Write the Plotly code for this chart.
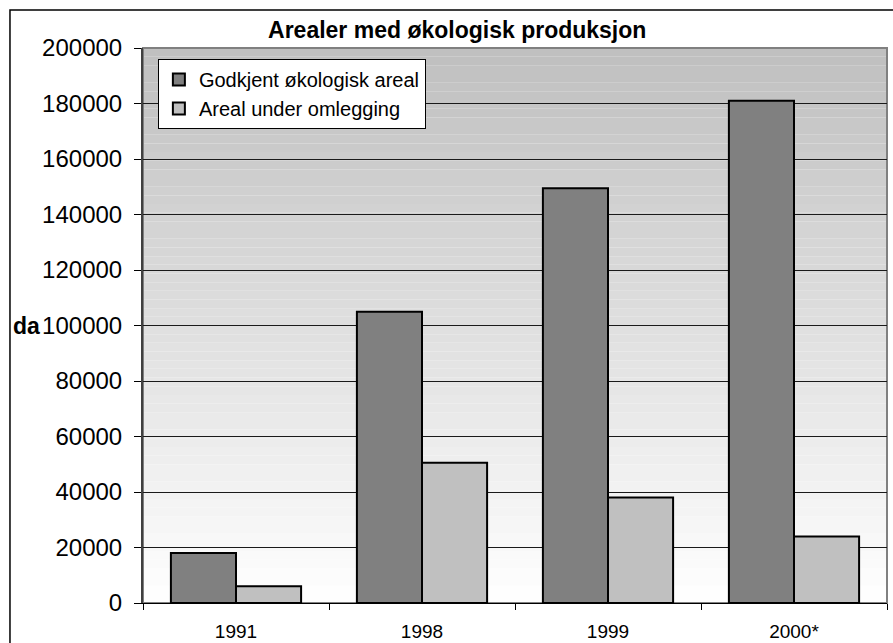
import plotly.graph_objects as go

# Data
years = ["1991", "1998", "1999", "2000*"]
godkjent = [18000, 105000, 149500, 181000]
omlegging = [6000, 50500, 38000, 24000]

FONT = "Arial, Liberation Sans, sans-serif"

fig = go.Figure()

fig.add_trace(go.Bar(
    x=years, y=godkjent, name="Godkjent økologisk areal",
    marker=dict(color="#808080", line=dict(color="black", width=2)),
))
fig.add_trace(go.Bar(
    x=years, y=omlegging, name="Areal under omlegging",
    marker=dict(color="#c0c0c0", line=dict(color="black", width=2)),
))

# Vertical grey gradient for the plot background (darker at top)
shapes = []
n = 64
for i in range(n):
    level = round(255 - 64 * (i + 0.5) / n)
    c = "rgb(%d,%d,%d)" % (level, level, level)
    shapes.append(dict(
        type="rect", xref="x domain", yref="y domain",
        x0=0, x1=1, y0=i / n, y1=(i + 1) / n,
        fillcolor=c, line=dict(width=0), layer="below",
    ))
# plot area frame
shapes.append(dict(
    type="rect", xref="x domain", yref="y domain", x0=0, x1=1, y0=0, y1=1,
    line=dict(color="#808080", width=2), layer="below",
))
# outer chart border
shapes.append(dict(
    type="rect", xref="paper", yref="paper",
    x0=-0.1788, x1=1.2, y0=-0.3, y1=1.0685,
    line=dict(color="black", width=1.5), layer="above",
))

fig.update_layout(
    width=893, height=643,
    margin=dict(l=143, r=6, t=48, b=40),
    paper_bgcolor="white",
    plot_bgcolor="white",
    font=dict(family=FONT, color="black"),
    title=dict(
        text="<b>Arealer med økologisk produksjon</b>",
        font=dict(size=23, family=FONT, color="black"),
        xref="container", x=0.512, xanchor="center",
        yref="container", y=0.953, yanchor="middle",
    ),
    barmode="group",
    bargap=0.3,
    bargroupgap=0,
    legend=dict(
        x=0.02, y=0.98, xanchor="left", yanchor="top",
        bgcolor="white", bordercolor="black", borderwidth=1,
        font=dict(size=20, family=FONT, color="black"),
        itemwidth=30, tracegroupgap=0,
    ),
    shapes=shapes,
    annotations=[dict(
        text="<b>da</b>", xref="paper", yref="y",
        x=-0.1774, y=100000, xanchor="left", yanchor="middle",
        showarrow=False, font=dict(size=23, family=FONT, color="black"),
    )],
)

fig.update_xaxes(
    type="category",
    showgrid=False,
    showline=True, linecolor="black", linewidth=1,
    ticks="outside", tickson="boundaries", ticklen=6, tickcolor="black",
    tickfont=dict(size=19, family=FONT, color="black"),
    ticklabelstandoff=11,
    automargin=False,
)
fig.update_yaxes(
    range=[0, 200000], dtick=20000, tickformat="d",
    showgrid=True, gridcolor="#1a1a1a", gridwidth=1,
    showline=True, linecolor="#404040", linewidth=2,
    ticks="outside", ticklen=7, tickcolor="black",
    tickfont=dict(size=24, family=FONT, color="black"),
    ticklabelstandoff=7,
    zeroline=False,
    automargin=False,
)

fig.write_html(
    "out.html",
    config={"displayModeBar": False},
    post_script="document.body.style.margin='0';",
)
